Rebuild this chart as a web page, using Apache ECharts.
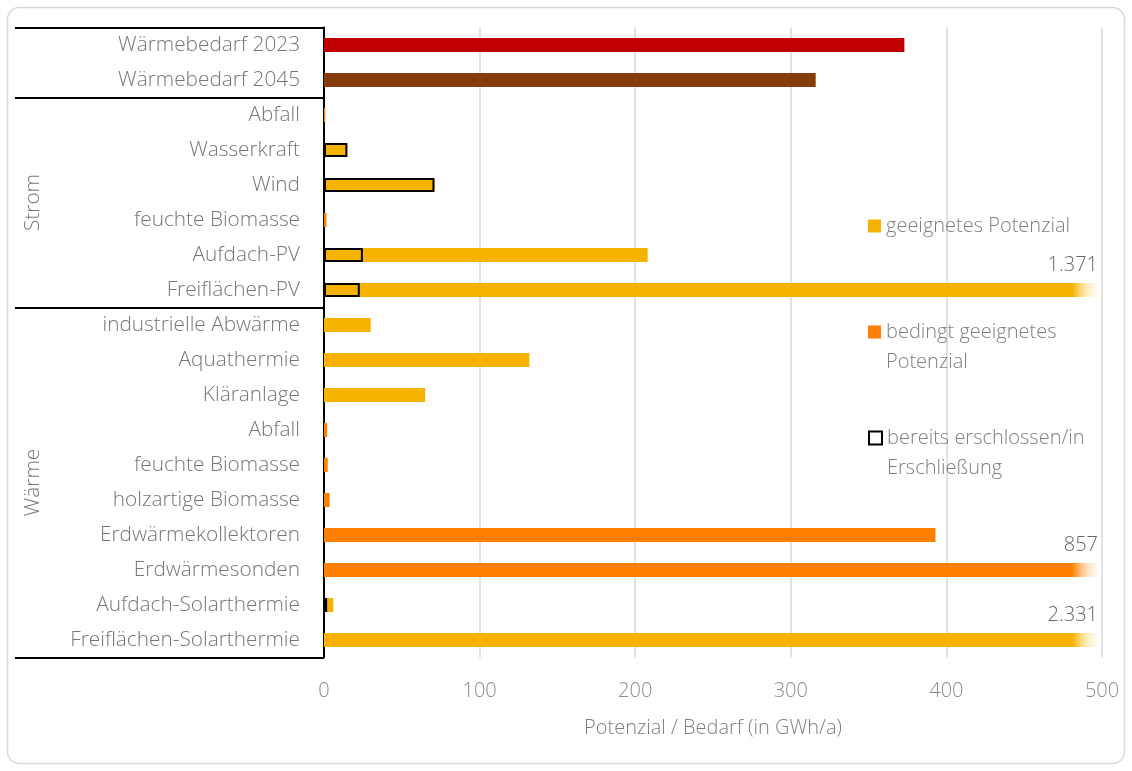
<!DOCTYPE html>
<html><head><meta charset="utf-8">
<script src="https://cdn.jsdelivr.net/npm/echarts@6/dist/echarts.min.js"></script>
<style>html,body{margin:0;padding:0;background:#fff}#c{width:1132px;height:771px}</style>
</head><body><div id="c"></div>
<script>
const categories = ['Wärmebedarf 2023','Wärmebedarf 2045','Abfall','Wasserkraft','Wind','feuchte Biomasse','Aufdach-PV','Freiflächen-PV','industrielle Abwärme','Aquathermie','Kläranlage','Abfall','feuchte Biomasse','holzartige Biomasse','Erdwärmekollektoren','Erdwärmesonden','Aufdach-Solarthermie','Freiflächen-Solarthermie'];
const bedarf      = [373, 316, null, null, null, null, null, null, null, null, null, null, null, null, null, null, null, null];
const geeignet    = [null, null, null, 15, 71, null, 208, 1371, 30, 132, 65, null, null, null, null, null, 6, 2331];
const bedingt     = [null, null, 0.8, null, null, 1.6, null, null, null, null, null, 2, 2.4, 3.6, 393, 857, null, null];
const erschlossen = [null, null, null, 15, 71, null, 25, 23, null, null, null, null, null, null, null, null, 2, null];
const groups = [{name:'Strom', from:2, to:7}, {name:'Wärme', from:8, to:17}];
const xTicks = {min:0, max:500, interval:100};

const bedarfColors = ['#C00000', '#843C0C'];
const cYellow = '#F5B300', cOrange = '#FF8000';
const FONT = 'Open Sans';
const FW = 300;
const FS = 20;
const chart = echarts.init(document.getElementById('c'));
const gridL = 324, gridR = 30, gridT = 27.5, gridB = 113.5;
const plotRight = 1132 - gridR;

function fade(col){
  return {type:'linear', global:true, x:plotRight-30, y:0, x2:plotRight, y2:0,
    colorStops:[{offset:0,color:col},{offset:1,color:'rgba(255,255,255,0.1)'}]};
}
function items(arr, col){
  return arr.map(v => v == null ? null : (v > xTicks.max ? {value:v, itemStyle:{color:fade(col)}} : v));
}
const overflow = [];
[geeignet, bedingt].forEach(a => a.forEach((v,i) => { if (v != null && v > xTicks.max) overflow.push([xTicks.max, i, v]); }));
const fmt = v => String(v).replace(/\B(?=(\d{3})+(?!\d))/g, '.');

const legendBase = {orient:'vertical', left:863, icon:'rect', itemWidth:13, itemHeight:13, itemGap:0, selectedMode:false,
  textStyle:{fontFamily:FONT, fontWeight:FW, fontSize:FS, color:'#7f7f7f', lineHeight:30}};

const option = {
  animation:false,
  grid:{left:gridL, right:gridR, top:gridT, bottom:gridB, containLabel:false},
  xAxis:{type:'value', min:xTicks.min, max:xTicks.max, interval:xTicks.interval,
    axisLine:{show:false}, axisTick:{show:false},
    splitLine:{lineStyle:{color:'#d9d9d9', width:1.5}},
    axisLabel:{fontFamily:FONT, fontWeight:FW, fontSize:FS, color:'#8c8c8c', margin:24},
    name:'Potenzial / Bedarf (in GWh/a)', nameLocation:'middle', nameGap:61,
    nameTextStyle:{fontFamily:FONT, fontWeight:FW, fontSize:FS, color:'#7f7f7f'}},
  yAxis:{type:'category', inverse:true, data:categories,
    axisLine:{show:true, lineStyle:{color:'#000', width:2}},
    axisTick:{show:true, length:309, lineStyle:{color:'#000', width:2},
      interval:function(i){ return i===0 || groups.some(g => g.from===i); }},
    axisLabel:{fontFamily:FONT, fontWeight:FW, fontSize:20.8, color:'#767676', margin:24, interval:0},
    splitLine:{show:false}},
  legend:[
    Object.assign({}, legendBase, {top:206, data:[{name:'geeignetes Potenzial', itemStyle:{color:cYellow}}]}),
    Object.assign({}, legendBase, {top:282, data:[{name:'bedingt geeignetes Potenzial', itemStyle:{color:cOrange}}],
      formatter:()=>'\u00a0\nbedingt geeignetes\nPotenzial'}),
    Object.assign({}, legendBase, {top:388, data:[{name:'bereits erschlossen/in Erschließung', itemStyle:{color:'#fff', borderColor:'#000', borderWidth:2}}],
      formatter:()=>'\u00a0\nbereits erschlossen/in\nErschließung'})
  ],
  series:[
    {name:'Bedarf', type:'bar', barWidth:14, barGap:'-100%', data:bedarf.map((v,i)=> v==null?null:{value:v, itemStyle:{color:bedarfColors[i]}})},
    {name:'geeignetes Potenzial', type:'bar', barWidth:14, barGap:'-100%', itemStyle:{color:cYellow}, data:items(geeignet, cYellow)},
    {name:'bedingt geeignetes Potenzial', type:'bar', barWidth:14, barGap:'-100%', itemStyle:{color:cOrange}, data:items(bedingt, cOrange)},
    {name:'bereits erschlossen/in Erschließung', type:'bar', barWidth:14, barGap:'-100%', itemStyle:{color:'rgba(0,0,0,0)', borderColor:'#000', borderWidth:2}, data:erschlossen},
    {name:'overflow', type:'scatter', symbolSize:0, data:overflow, silent:true,
      label:{show:true, position:'inside', align:'right', verticalAlign:'middle', offset:[-4,-25],
        formatter:p=>fmt(p.data[2]), fontFamily:FONT, fontWeight:FW, fontSize:FS, color:'#404040'}}
  ]
};
chart.setOption(option);

const gfx = [{type:'rect', shape:{x:7.5, y:7.5, width:1117, height:756, r:12}, style:{fill:'none', stroke:'#d9d9d9', lineWidth:1.5}, z:-10}];
groups.forEach(g => {
  const y = (chart.convertToPixel({yAxisIndex:0}, g.from) + chart.convertToPixel({yAxisIndex:0}, g.to)) / 2;
  gfx.push({type:'text', x:33, y:y, rotation:Math.PI/2,
    style:{text:g.name, fontFamily:FONT, fontWeight:FW, fontSize:20.8, fill:'#767676', align:'center', verticalAlign:'middle'}});
});
chart.setOption({graphic:gfx});
</script></body></html>
